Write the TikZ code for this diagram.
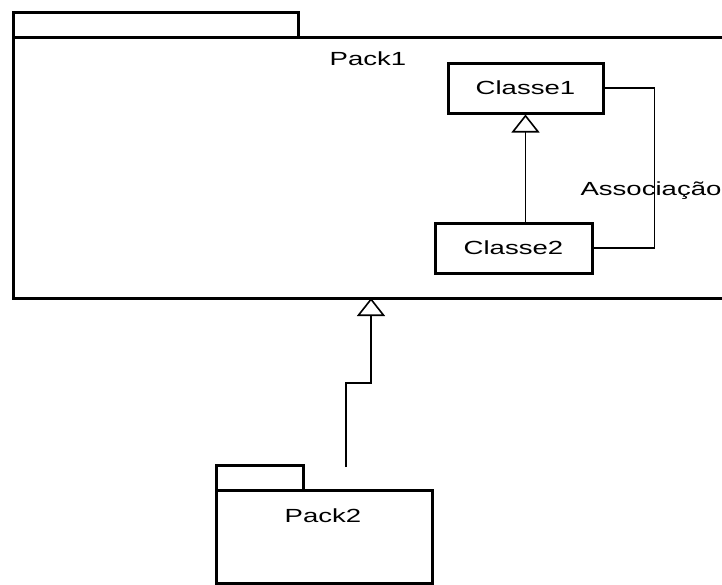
\documentclass[tikz,border=0pt]{standalone}
\usepackage{fontspec}
\setmainfont{Liberation Sans}
\newfontfamily\umlfont[FakeStretch=1.45]{Liberation Sans}
\usetikzlibrary{arrows.meta,positioning}

\tikzset{
  pkgline/.style={draw,line width=3pt},
  classbox/.style={draw,line width=3pt,minimum height=50pt,inner sep=0pt},
  umltext/.style={font=\umlfont\fontsize{19}{21}\selectfont,inner sep=0pt},
  gen/.style={line width=1.6pt,-{Triangle[open,length=18pt,width=28pt,line width=1.6pt]}},
  assoc/.style={line width=1.4pt}
}

\begin{document}
\begin{tikzpicture}[x=1pt,y=-1pt]
  \clip (0,0) rectangle (722,584);
  \fill[white] (0,0) rectangle (722,584);

  % Pack1 (runs off the right side)
  \draw[pkgline] (13,12) rectangle (298,37);
  \draw[pkgline] (13,37) rectangle (790,298);
  \node[umltext] (pack1) at (368,59) {Pack1};
  \coordinate (p1bot) at (371,298);

  % Classes
  \node[classbox,umltext,minimum width=155pt,minimum height=50pt] (classe1) at (525.5,88) {Classe1};
  \node[classbox,umltext,minimum width=157pt,minimum height=50pt] (classe2) at (513.5,248) {Classe2};

  % Generalization between classes
  \draw[gen] (classe2.north -| classe1.south) -- (classe1.south);

  % Association
  \draw[assoc] (classe1.east) -- ++(50,0) |- (classe2.east);
  \node[umltext] (assocname) at (651,191) {Associação};

  % Pack2
  \draw[pkgline] (216,465) rectangle (303,490);
  \draw[pkgline] (216,490) rectangle (432,583);
  \node[umltext] (pack2) at (323,516) {Pack2};
  \coordinate (p2top) at (346,467);
  \coordinate (bend) at (346,383);

  % Pack2 generalizes to Pack1
  \draw[gen] (p2top) -- (bend) -| (p1bot);
\end{tikzpicture}
\end{document}
